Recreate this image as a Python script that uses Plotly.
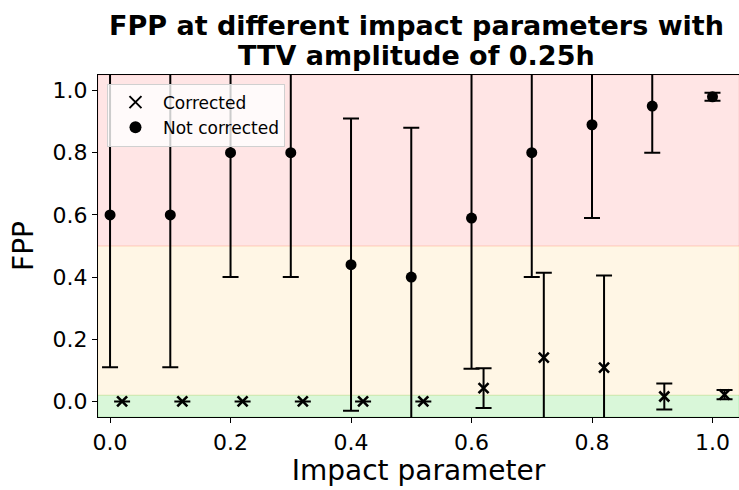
import plotly.graph_objects as go

# Impact parameter grid and FPP results
impact = [0.0, 0.1, 0.2, 0.3, 0.4, 0.5, 0.6, 0.7, 0.8, 0.9, 1.0]
offset = 0.02  # small shift so corrected points don't overlap

fpp_not_corrected = [0.60, 0.60, 0.80, 0.80, 0.44, 0.40, 0.59, 0.80, 0.89, 0.95, 0.98]
err_not_corrected = [0.49, 0.49, 0.40, 0.40, 0.47, 0.48, 0.485, 0.40, 0.30, 0.15, 0.013]

fpp_corrected = [0.0, 0.0, 0.0, 0.0, 0.0, 0.0, 0.043, 0.141, 0.109, 0.016, 0.022]
err_corrected = [0.0, 0.0, 0.0, 0.0, 0.0, 0.0, 0.064, 0.273, 0.296, 0.042, 0.015]

x_tick_vals = [0.0, 0.2, 0.4, 0.6, 0.8, 1.0]
y_tick_vals = [0.0, 0.2, 0.4, 0.6, 0.8, 1.0]

title_lines = ["FPP at different impact parameters with", "TTV amplitude of 0.25h"]

FONT = "DejaVu Sans"
W, H = 739, 490
M_L, M_R, M_T, M_B = 98, 0, 75, 73
plot_h = H - M_T - M_B

fig = go.Figure()

# Shaded FPP regions
bands = [(-0.05, 0.02, "rgba(0,200,0,0.15)"),
         (0.02, 0.5, "rgba(255,165,0,0.1)"),
         (0.5, 1.05, "rgba(255,0,0,0.1)")]
for y0, y1, col in bands:
    fig.add_shape(type="rect", xref="paper", yref="y", x0=0, x1=1, y0=y0, y1=y1,
                  fillcolor=col, line=dict(width=1, color=col), layer="below")

fig.add_trace(go.Scatter(
    x=[b + offset for b in impact], y=fpp_corrected, mode="markers", name="Corrected",
    marker=dict(symbol="x-thin-open", size=10, color="black", line=dict(width=2.6, color="black")),
    error_y=dict(type="data", array=err_corrected, visible=True, color="black", thickness=2, width=8),
))
fig.add_trace(go.Scatter(
    x=impact, y=fpp_not_corrected, mode="markers", name="Not corrected",
    marker=dict(symbol="circle", size=11, color="black"),
    error_y=dict(type="data", array=err_not_corrected, visible=True, color="black", thickness=2, width=8),
))

# Two-line bold title, placed line by line for tighter spacing
for text, y_px in zip(title_lines, [25, 55.5]):
    fig.add_annotation(text=f"<b>{text}</b>", xref="paper", yref="paper",
                       x=(416 - M_L) / (W - M_L - M_R), xanchor="center",
                       y=(H - M_B - y_px) / plot_h, yanchor="middle",
                       showarrow=False, font=dict(family=FONT, size=27, color="black"))

fig.update_layout(
    width=W, height=H,
    margin=dict(l=M_L, r=M_R, t=M_T, b=M_B),
    paper_bgcolor="white", plot_bgcolor="white",
    font=dict(family=FONT, color="black"),
    showlegend=True,
    legend=dict(x=0.014, y=0.975, xanchor="left", yanchor="top",
                bgcolor="rgba(255,255,255,0.8)", bordercolor="#d0d0d0", borderwidth=1,
                font=dict(family=FONT, size=17, color="black"),
                itemsizing="constant", itemwidth=45, tracegroupgap=0),
)

fig.update_xaxes(
    range=[-0.02, 1.044], tickvals=x_tick_vals, tickformat=".1f",
    showgrid=False, zeroline=False, showline=True, linecolor="black", linewidth=1.2, mirror=True,
    ticks="outside", ticklen=5, tickwidth=1.2, tickcolor="black",
    tickfont=dict(family=FONT, size=22, color="black"),
    title=dict(text="Impact parameter", font=dict(family=FONT, size=28, color="black"), standoff=3),
)
fig.update_yaxes(
    range=[-0.05, 1.05], tickvals=y_tick_vals, tickformat=".1f",
    showgrid=False, zeroline=False, showline=True, linecolor="black", linewidth=1.2, mirror=True,
    ticks="outside", ticklen=5, tickwidth=1.2, tickcolor="black",
    tickfont=dict(family=FONT, size=22, color="black"),
    title=dict(text="FPP", font=dict(family=FONT, size=28, color="black"), standoff=10),
)

fig.write_html("out.html")
